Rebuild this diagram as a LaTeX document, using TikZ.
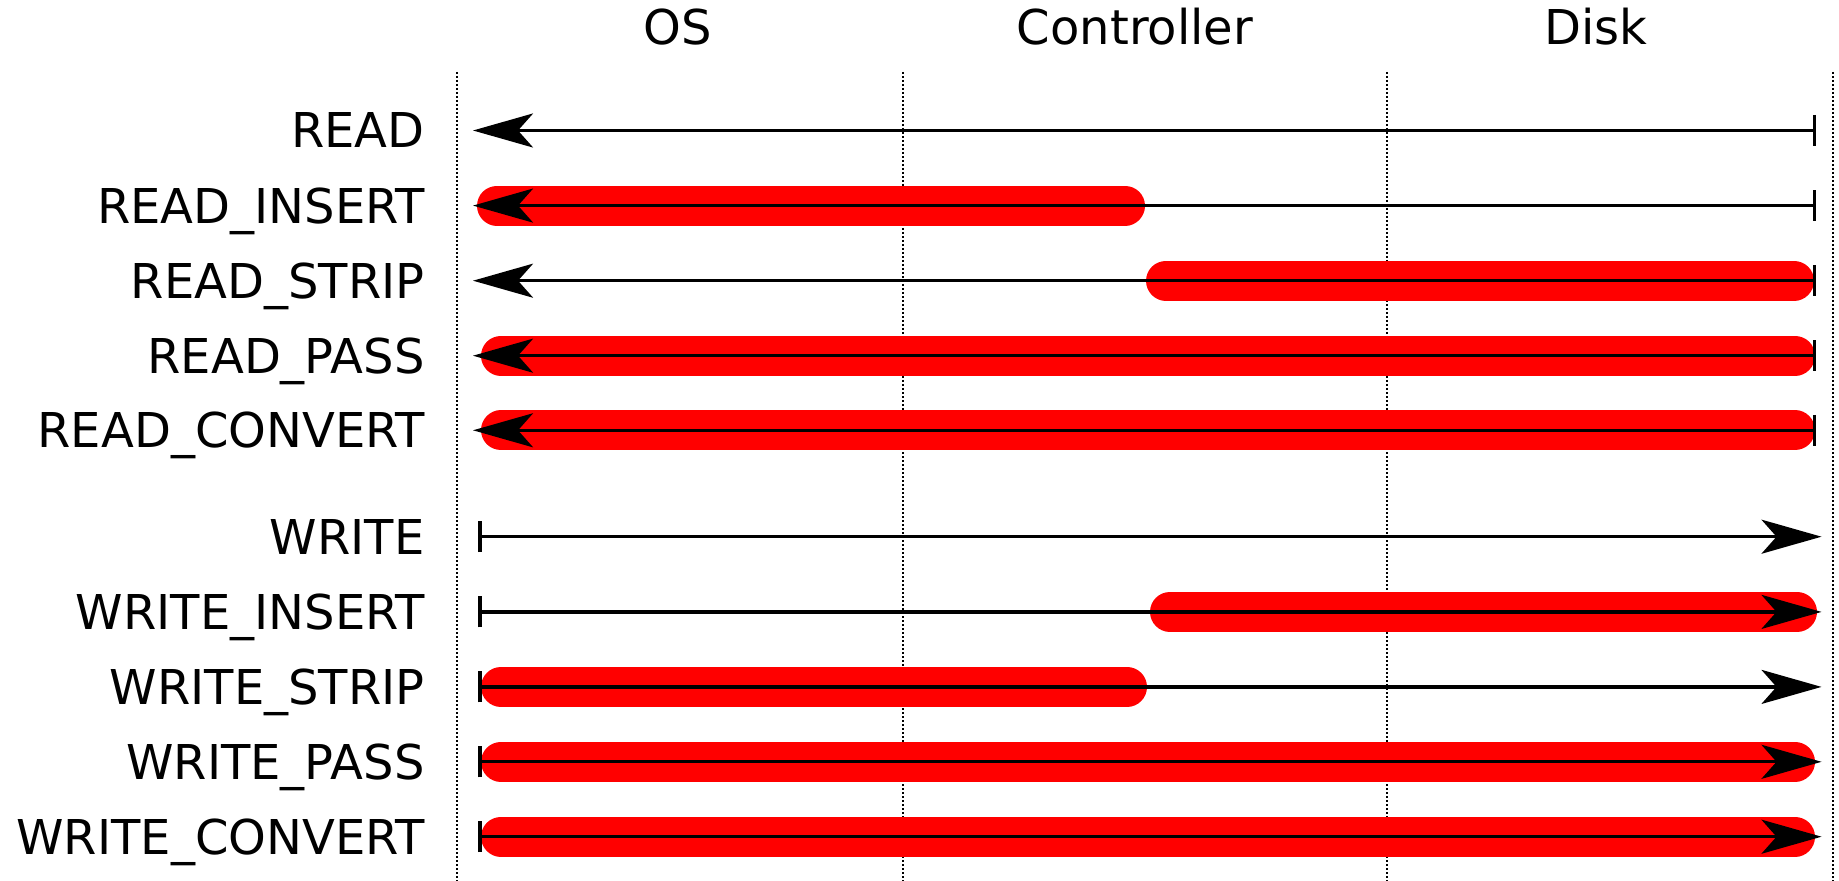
\documentclass[tikz,border=0pt]{standalone}
\usepackage{fontspec}
\setmainfont{DejaVu Sans}
\usetikzlibrary{arrows.meta}
\tikzset{
  lbl/.style={anchor=base east, inner sep=0pt, font=\fontsize{24pt}{28pt}\selectfont},
  hdr/.style={anchor=base, inner sep=0pt, font=\fontsize{24pt}{28pt}\selectfont},
  sep/.style={line width=0.8pt, dash pattern=on 1pt off 1pt},
  redbar/.style={draw=red, line width=20pt, line cap=round},
  rdarr/.style={line width=1.6pt, {Bar[width=15.5pt,line width=1.6pt]}-{Stealth[length=30pt,width=17pt,inset=7.5pt]}},
}
\begin{document}
\begin{tikzpicture}[x=0.5pt,y=-0.5pt]
\useasboundingbox (0,0) rectangle (1839,881);
% column separators
\foreach \x/\n in {457/a,903/b,1387/c,1833/d}{
  \coordinate (t\n) at (\x,72);
  \coordinate (b\n) at (\x,881);
  \draw[sep] (t\n) -- (b\n);
}
% headers
\node[hdr] (hos) at (678,45) {OS};
\node[hdr] (hctl) at (1135,45) {Controller};
\node[hdr] (hdisk) at (1596,45) {Disk};
% rows: endpoints
\foreach \i/\y in {1/130.5,2/205.6,3/280.7,4/355.7,5/430.3}{
  \coordinate (L\i) at (473,\y);
  \coordinate (R\i) at (1816,\y);
}
\foreach \i/\y in {6/536.7,7/611.9,8/686.9,9/761.8,10/836.7}{
  \coordinate (L\i) at (478.3,\y);
  \coordinate (R\i) at (1821.5,\y);
}
% labels
\node[lbl] (n1) at (425,148) {READ};
\node[lbl] (n2) at (425,223.1) {READ\_INSERT};
\node[lbl] (n3) at (425,298.2) {READ\_STRIP};
\node[lbl] (n4) at (425,373.2) {READ\_PASS};
\node[lbl] (n5) at (425,447.8) {READ\_CONVERT};
\node[lbl] (n6) at (425,554.2) {WRITE};
\node[lbl] (n7) at (425,629.4) {WRITE\_INSERT};
\node[lbl] (n8) at (425,704.4) {WRITE\_STRIP};
\node[lbl] (n9) at (425,779.3) {WRITE\_PASS};
\node[lbl] (n10) at (425,854.2) {WRITE\_CONVERT};
% red bar ends
\coordinate (a2) at (497,205.6);   \coordinate (b2) at (1125,205.6);
\coordinate (a3) at (1166,280.7);  \coordinate (b3) at (1794,280.7);
\coordinate (a4) at (501,355.7);   \coordinate (b4) at (1795,355.7);
\coordinate (a5) at (501,430.3);   \coordinate (b5) at (1795,430.3);
\coordinate (a7) at (1170,611.9);  \coordinate (b7) at (1797,611.9);
\coordinate (a8) at (501,686.9);   \coordinate (b8) at (1127,686.9);
\coordinate (a9) at (501,761.8);   \coordinate (b9) at (1795,761.8);
\coordinate (a10) at (501,836.7);  \coordinate (b10) at (1795,836.7);
\foreach \i in {2,3,4,5,7,8,9,10}{
  \draw[redbar] (a\i) -- (b\i);
}
% arrows
\foreach \i in {1,2,3,4,5}{
  \draw[rdarr] (R\i) -- (L\i);
}
\foreach \i in {6,7,8,9,10}{
  \draw[rdarr] (L\i) -- (R\i);
}
\end{tikzpicture}
\end{document}
